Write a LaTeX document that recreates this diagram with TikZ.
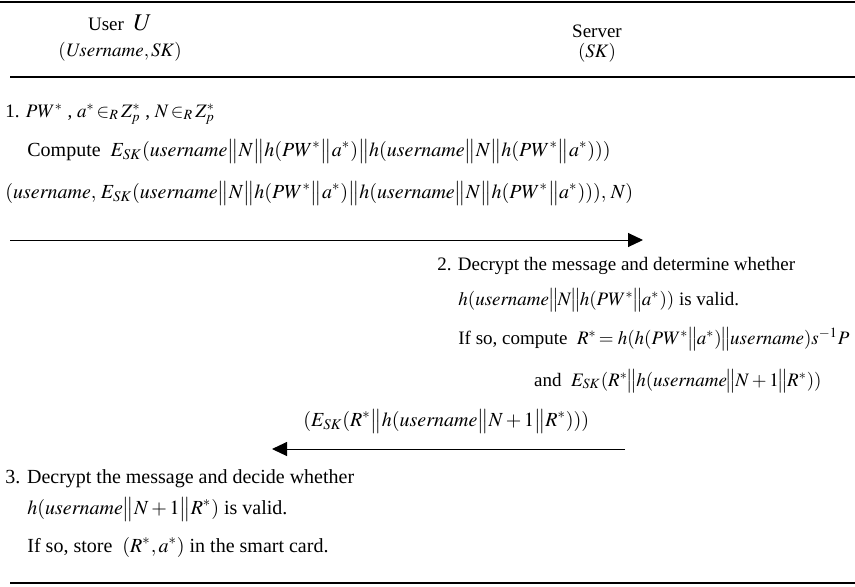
\documentclass[tikz,border=0pt]{standalone}
\usepackage{mathptmx}
\usepackage[no-math]{fontspec}
\setmainfont{Liberation Serif}
\usetikzlibrary{arrows.meta,positioning}

\newcommand{\cc}{\big\|}
\newcommand{\cs}{\mkern-1mu\big\|\mkern-1mu}
\newcommand{\un}{\mathit{username}}

\begin{document}
\begin{tikzpicture}[
    x=0.5pt, y=-0.5pt,
    txt/.style={anchor=base west, inner sep=0pt, font=\fontsize{10}{12}\selectfont},
    srv/.style={txt, font=\fontsize{9.5}{11}\selectfont},
    head/.style={anchor=base, inner sep=0pt, font=\fontsize{9.5}{11}\selectfont},
    rule/.style={line width=1.3pt},
    msg/.style={-{Triangle[length=7.5pt,width=7pt]}, line width=0.5pt}
]
\useasboundingbox (0,0) rectangle (855,586);

% header
\draw[rule] (0,2) -- (855,2);
\node[head] (user) at (120,30) {User\ \ {\large$U$}};
\node[head] (userkey) at (120,56) {$(\mathit{Username}, \mathit{SK})$};
\node[head] (server) at (597,37) {Server};
\node[head] (serverkey) at (597,57) {$(\mathit{SK})$};
\draw[rule] (10,77) -- (855,77);

% step 1 at the user
\node[srv] (s1) at (5,117) {1. $PW^{*}$ , $a^{*}\,{\in_{R}}\,Z_{p}^{*}$ , $N\,{\in_{R}}\,Z_{p}^{*}$};
\node[txt] (s1c) at (27,156) {Compute\ \ $E_{\mathit{SK}}(\un\cc N\cc h(PW^{*}\cc a^{*})\cc h(\un\cc N\cc h(PW^{*}\cc a^{*})))$};
\node[txt] (m1) at (5,198) {$(\un,\, E_{\mathit{SK}}(\un\cc N\cc h(PW^{*}\cc a^{*})\cc h(\un\cc N\cc h(PW^{*}\cc a^{*}))),\, N)$};
\coordinate (m1a) at (10,240);
\coordinate (m1b) at (643,240);
\draw[msg] (m1a) -- (m1b);

% step 2 at the server
\node[srv] (s2) at (437,270) {2. Decrypt the message and determine whether};
\node[srv] (s2a) at (458,305) {$h(\un\cs N\cs h(PW^{*}\cs a^{*}))$ is valid.};
\node[srv] (s2b) at (458,344) {If so, compute\ \ $R^{*}\!=h(h(PW^{*}\cs a^{*})\cs \un)s^{-1}P$};
\node[srv, anchor=base east] (s2c) at (822,386) {and\ \ $E_{\mathit{SK}}(R^{*}\cs h(\un\cs N+1\cs R^{*}))$};
\node[txt] (m2) at (303,426) {$(E_{\mathit{SK}}(R^{*}\cc h(\un\cc N+1\cc R^{*})))$};
\coordinate (m2a) at (625,449);
\coordinate (m2b) at (272,449);
\draw[msg] (m2a) -- (m2b);

% step 3 at the user
\node[txt] (s3) at (5,483) {3. Decrypt the message and decide whether};
\node[txt] (s3a) at (27,514) {$h(\un\cc N+1\cc R^{*})$ is valid.};
\node[txt] (s3b) at (27,552) {If so, store\ \ $(R^{*}, a^{*})$ in the smart card.};
\draw[rule] (10,583) -- (855,583);
\end{tikzpicture}
\end{document}
